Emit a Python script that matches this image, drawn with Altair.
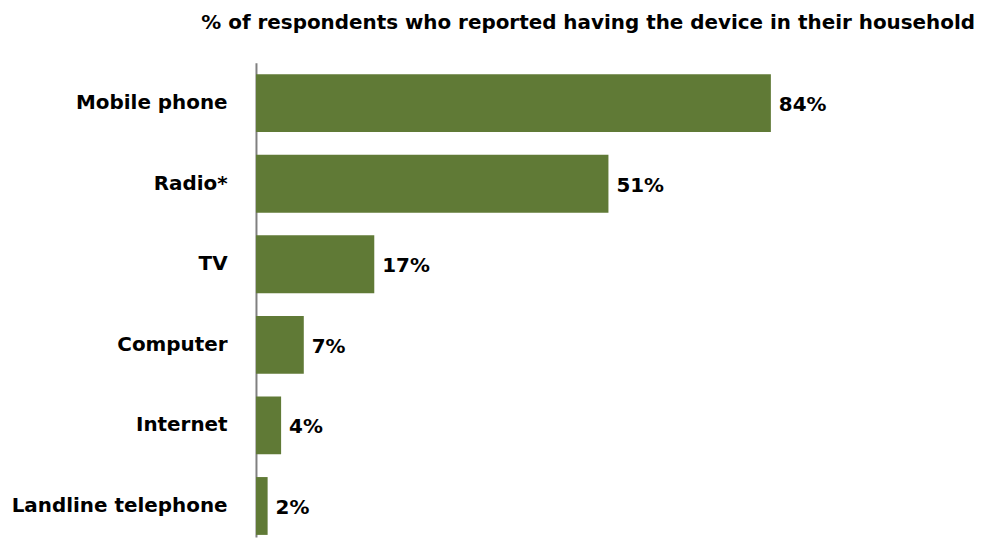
import altair as alt
import pandas as pd

categories = ["Mobile phone", "Radio*", "TV", "Computer", "Internet", "Landline telephone"]
bar_values = [84, 57.5, 19.3, 7.8, 4.1, 1.9]
labels = ["84%", "51%", "17%", "7%", "4%", "2%"]

df = pd.DataFrame({"category": categories, "value": bar_values, "label": labels})

FONT = "DejaVu Sans"
GREEN = "#607a36"
FS = 20

y_enc = alt.Y(
    "category:N",
    sort=categories,
    scale=alt.Scale(paddingInner=0.282, paddingOuter=0.083, align=0.85),
    axis=alt.Axis(
        title=None,
        ticks=False,
        domain=True,
        domainColor="#808080",
        domainWidth=2,
        labelFont=FONT,
        labelFontSize=FS,
        labelFontWeight="bold",
        labelColor="#000000",
        labelPadding=29,
        labelLimit=400,
        grid=False,
    ),
)
x_enc = alt.X("value:Q", scale=alt.Scale(domain=[0, 117.3], nice=False), axis=None)

bars = alt.Chart(df).mark_bar(color=GREEN).encode(y=y_enc, x=x_enc)
text = alt.Chart(df).mark_text(
    align="left", baseline="middle", dx=8, dy=2, font=FONT, fontSize=FS, fontWeight="bold", color="#000000"
).encode(y=alt.Y("category:N", sort=categories), x=alt.X("value:Q"), text="label:N")

chart = (
    alt.layer(bars, text)
    .properties(
        width=722,
        height=476,
        background="white",
        padding={"left": 3, "top": 4, "right": 0, "bottom": 0},
        title=alt.TitleParams(
            "% of respondents who reported having the device in their household",
            anchor="end",
            font=FONT,
            fontSize=FS,
            fontWeight="bold",
            color="#000000",
            offset=30,
        ),
    )
    .configure_view(stroke=None, strokeWidth=0)
)

chart.save("out.html", embed_options={"renderer": "svg", "actions": False})
